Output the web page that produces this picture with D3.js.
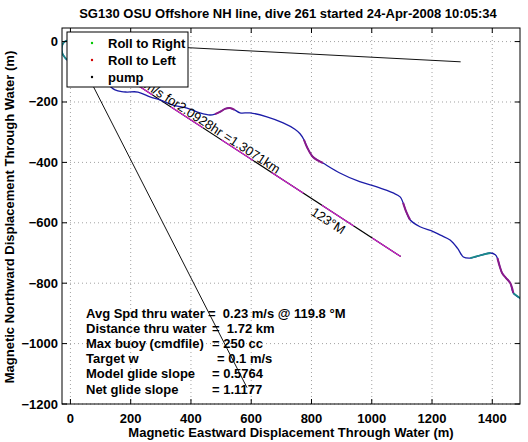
<!DOCTYPE html>
<html>
<head>
<meta charset="utf-8">
<script src="https://cdn.jsdelivr.net/npm/d3@7"></script>
<style>
  html, body { margin: 0; padding: 0; background: #fff; }
  svg { display: block; font-family: "Liberation Sans", Arial, Helvetica, sans-serif; }
</style>
</head>
<body>
<svg id="chart" width="528" height="442"></svg>
<script>
// ---------------- data ----------------
const titleText = "SG130 OSU Offshore NH line, dive 261 started 24-Apr-2008 10:05:34";
const xLabelText = "Magnetic Eastward Displacement Through Water (m)";
const yLabelText = "Magnetic Northward Displacement Through Water (m)";

const xTicks = [0, 200, 400, 600, 800, 1000, 1200, 1400];
const yTicks = [-1200, -1000, -800, -600, -400, -200, 0];
const xDomain = [-28, 1492];
const yDomain = [-1200, 45];

// glider track through water (east m, north m)
const trackX = [0, -12, -22, -28, -29, -24, -12, 10, 40, 75, 105, 124, 148, 170, 188, 224, 264, 297, 340, 387,
  430, 463, 480, 496, 515, 529, 545, 563, 596, 652, 706, 745, 762, 775, 785, 805, 838, 894, 960, 1017,
  1071, 1095, 1104, 1115, 1127, 1160, 1204, 1228, 1260, 1285, 1304, 1327, 1370, 1394, 1410, 1417, 1425, 1433, 1445, 1460,
  1470, 1493];
const trackY = [0, 3, -3, -15, -30, -45, -60, -78, -98, -118, -133, -143, -160, -166, -167, -167, -183, -193, -210, -220,
  -236, -243, -240, -233, -222, -220, -226, -236, -236, -249, -269, -290, -305, -325, -349, -382, -402, -435, -464, -481,
  -501, -515, -534, -565, -590, -613, -629, -641, -657, -685, -713, -717, -705, -700, -706, -717, -745, -767, -782, -800,
  -833, -850];

// index ranges of the track where roll markers pile up
const rollRightSegs = [[0, 6], [51, 53], [60, 61]];
const rollLeftSegs = [[22, 26], [33, 36], [42, 44], [55, 60]];

// depth-averaged current: speed, duration, distance, heading
const curSpeed = "0.17349";
const curHours = "2.0928";
const curKm = 1.3071;
const curHeading = 123;

// other reference lines (from origin)
const lineA = {x: [0, 1295], y: [0, -67]};
const lineB = {x: [0, 586], y: [0, -1146]};

const legendLabels = ["Roll to Right", "Roll to Left", "pump"];
const legendColors = ["#00c800", "#d00000", "#000000"];

const statLabels = ["Avg Spd thru water", "Distance thru water", "Max buoy (cmdfile)", "Target w", "Model glide slope", "Net glide slope"];
const statValues = ["=  0.23 m/s @ 119.8 °M", "=  1.72 km", "= 250 cc", "= 0.1 m/s", "= 0.5764", "= 1.1177"];

// ---------------- layout ----------------
const L = 62, R = 520, T = 28, B = 404;
const FS = 13;
const svg = d3.select("#chart");
const x = d3.scaleLinear().domain(xDomain).range([L, R]);
const y = d3.scaleLinear().domain(yDomain).range([B, T]);

svg.append("defs").append("clipPath").attr("id", "clip")
  .append("rect").attr("x", L).attr("y", T).attr("width", R - L).attr("height", B - T);

// grid
const grid = svg.append("g").attr("stroke", "#8a8a8a").attr("stroke-width", 0.8).attr("stroke-dasharray", "1,3");
grid.selectAll(".gx").data(xTicks).join("line")
  .attr("x1", d => x(d)).attr("x2", d => x(d)).attr("y1", T).attr("y2", B);
grid.selectAll(".gy").data(yTicks).join("line")
  .attr("y1", d => y(d)).attr("y2", d => y(d)).attr("x1", L).attr("x2", R);

const plot = svg.append("g").attr("clip-path", "url(#clip)");

// reference lines
plot.append("line").attr("x1", x(lineA.x[0])).attr("y1", y(lineA.y[0])).attr("x2", x(lineA.x[1])).attr("y2", y(lineA.y[1]))
  .attr("stroke", "#111").attr("stroke-width", 1);
plot.append("line").attr("x1", x(lineB.x[0])).attr("y1", y(lineB.y[0])).attr("x2", x(lineB.x[1])).attr("y2", y(lineB.y[1]))
  .attr("stroke", "#111").attr("stroke-width", 1);

// current vector
const rad = curHeading * Math.PI / 180;
const cEx = curKm * 1000 * Math.sin(rad), cEy = curKm * 1000 * Math.cos(rad);
const p0 = [x(0), y(0)], p1 = [x(cEx), y(cEy)];
plot.append("line").attr("x1", p0[0]).attr("y1", p0[1]).attr("x2", p1[0]).attr("y2", p1[1])
  .attr("stroke", "#000").attr("stroke-width", 1.2);
plot.append("line").attr("x1", p0[0]).attr("y1", p0[1]).attr("x2", p1[0]).attr("y2", p1[1])
  .attr("stroke", "#d020d0").attr("stroke-width", 1.2).attr("stroke-dasharray", "38,22");

// track
const pts = trackX.map((v, i) => [v, trackY[i]]);
const lineGen = d3.line().x(d => x(d[0])).y(d => y(d[1])).curve(d3.curveCatmullRom.alpha(0.5));
plot.append("path").attr("d", lineGen(pts)).attr("fill", "none").attr("stroke", "#1c1ca8").attr("stroke-width", 1.3);
rollLeftSegs.forEach(s => {
  plot.append("path").attr("d", lineGen(pts.slice(s[0], s[1] + 1))).attr("fill", "none")
    .attr("stroke", "#8a1a8a").attr("stroke-width", 2);
});
rollRightSegs.forEach(s => {
  plot.append("path").attr("d", lineGen(pts.slice(s[0], s[1] + 1))).attr("fill", "none")
    .attr("stroke", "#1a8a8a").attr("stroke-width", 1.8);
});

// current text along the vector
const ang = Math.atan2(p1[1] - p0[1], p1[0] - p0[0]) * 180 / Math.PI;
const ux = (p1[0] - p0[0]), uy = (p1[1] - p0[1]);
const len = Math.hypot(ux, uy);
const nx = -uy / len, ny = ux / len; // normal pointing below-right
function along(t, off) { return [p0[0] + ux * t + nx * off, p0[1] + uy * t + ny * off]; }
const tA = along(0.622, -1.5);
svg.append("text").attr("transform", `translate(${tA[0]},${tA[1]}) rotate(${ang})`)
  .attr("text-anchor", "end").attr("font-size", 13).attr("fill", "#000")
  .text(`${curSpeed}m/s for${curHours}hr =${curKm.toFixed(4)}km`);
const tB = along(0.796, 9.5);
svg.append("text").attr("transform", `translate(${tB[0]},${tB[1]}) rotate(${ang})`)
  .attr("text-anchor", "middle").attr("dominant-baseline", "central").attr("font-size", 13).attr("fill", "#000")
  .text(`${curHeading}°M`);

// axes box and ticks (inward, all sides)
const ax = svg.append("g").attr("stroke", "#000").attr("stroke-width", 1);
ax.append("rect").attr("x", L).attr("y", T).attr("width", R - L).attr("height", B - T).attr("fill", "none");
const tk = 5;
ax.selectAll(".tb").data(xTicks).join("line").attr("x1", d => x(d)).attr("x2", d => x(d)).attr("y1", B).attr("y2", B - tk);
ax.selectAll(".tt").data(xTicks).join("line").attr("x1", d => x(d)).attr("x2", d => x(d)).attr("y1", T).attr("y2", T + tk);
ax.selectAll(".tl").data(yTicks).join("line").attr("y1", d => y(d)).attr("y2", d => y(d)).attr("x1", L).attr("x2", L + tk);
ax.selectAll(".tr").data(yTicks).join("line").attr("y1", d => y(d)).attr("y2", d => y(d)).attr("x1", R).attr("x2", R - tk);

const fmt = d => d < 0 ? "\u2212" + Math.abs(d) : String(d);
svg.append("g").selectAll("text").data(xTicks).join("text")
  .attr("x", d => x(d)).attr("y", B + 19).attr("text-anchor", "middle")
  .attr("font-size", FS).attr("font-weight", "bold").text(fmt);
svg.append("g").selectAll("text").data(yTicks).join("text")
  .attr("x", L - 4).attr("y", d => y(d) + 4.5).attr("text-anchor", "end")
  .attr("font-size", FS).attr("font-weight", "bold").text(fmt);

// titles
svg.append("text").attr("x", 288).attr("y", 18).attr("text-anchor", "middle")
  .attr("font-size", FS).attr("font-weight", "bold").text(titleText);
svg.append("text").attr("x", 291).attr("y", 437).attr("text-anchor", "middle")
  .attr("font-size", FS).attr("font-weight", "bold").text(xLabelText);
svg.append("text").attr("transform", `translate(14,217) rotate(-90)`).attr("text-anchor", "middle")
  .attr("font-size", FS).attr("font-weight", "bold").text(yLabelText);

// stats block
const st = svg.append("g").attr("font-size", FS).attr("font-weight", "bold");
const statValX = [208, 212, 212, 217, 212, 212];
statLabels.forEach((s, i) => {
  const yy = 318 + i * 15.1;
  st.append("text").attr("x", 86).attr("y", yy).text(s);
  st.append("text").attr("x", statValX[i]).attr("y", yy).attr("xml:space", "preserve").style("white-space", "pre").text(statValues[i]);
});

// legend
const lg = svg.append("g");
lg.append("rect").attr("x", 67).attr("y", 32).attr("width", 121).attr("height", 55)
  .attr("fill", "#fff").attr("stroke", "#000").attr("stroke-width", 1);
legendLabels.forEach((s, i) => {
  const yy = 43 + i * 17;
  lg.append("circle").attr("cx", 92).attr("cy", yy).attr("r", 1.2).attr("fill", legendColors[i]);
  lg.append("text").attr("x", 108).attr("y", yy + 4.5).attr("font-size", 13).attr("font-weight", "bold").text(s);
});
</script>
</body>
</html>
